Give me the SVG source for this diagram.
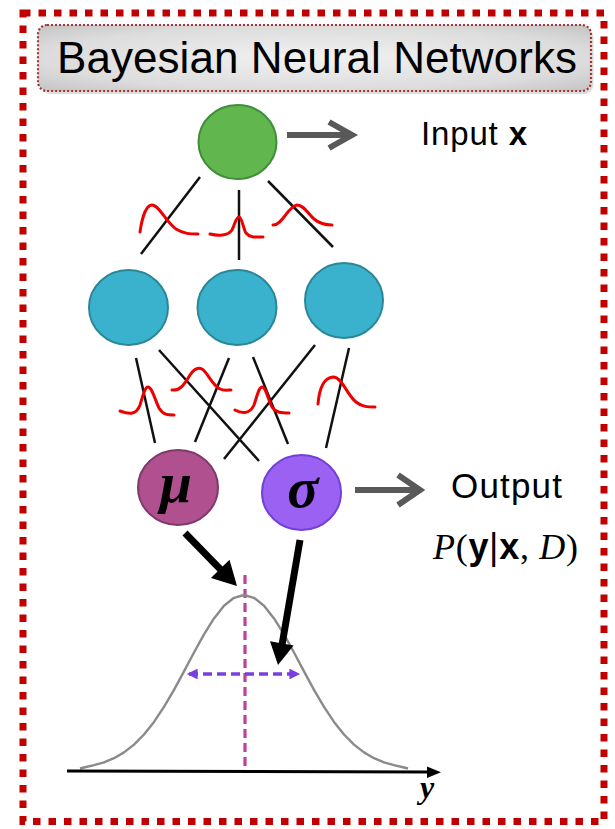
<svg xmlns="http://www.w3.org/2000/svg" width="615" height="829" viewBox="0 0 615 829">
<style>
.sans{font-family:"Liberation Sans","Noto Sans",Arial,sans-serif;fill:#000}
.serif{font-family:"Liberation Serif","DejaVu Serif","Times New Roman",serif;fill:#000}
.conn{stroke:#111;stroke-width:2.5;fill:none;stroke-linecap:butt}
.gauss{stroke:#ee0000;stroke-width:3;fill:none;stroke-linecap:round;stroke-linejoin:round}
.garrow{stroke:#595959;stroke-width:6;fill:none;stroke-linejoin:miter}
</style>
<defs>
<radialGradient id="titleFill" cx="50%" cy="50%" r="70%">
<stop offset="0" stop-color="#f2f2f2"/>
<stop offset="0.7" stop-color="#dcdcdc"/>
<stop offset="1" stop-color="#c4c4c4"/>
</radialGradient>
<marker id="purpleHead" viewBox="0 0 10 10" refX="8" refY="5" markerWidth="3.2" markerHeight="3" orient="auto-start-reverse" markerUnits="strokeWidth">
<path d="M0,0 L10,5 L0,10 z" fill="#7b3fe0"/>
</marker>
</defs>
<rect width="615" height="829" fill="#fff"/>
<!-- outer border -->
<rect x="23" y="13" width="581" height="808.5" fill="none" stroke="#c00000" stroke-width="7" stroke-dasharray="7.5 8"/>
<!-- title -->
<g id="title">
<rect x="40" y="27" width="552" height="65" rx="9" fill="#bdbdbd" opacity="0.5" transform="translate(1.5,2)"/>
<rect x="38" y="25" width="553" height="66" rx="9" fill="url(#titleFill)" stroke="#a83232" stroke-width="2.2" stroke-dasharray="2 2"/>
<text class="sans" x="57" y="73" font-size="44" textLength="520">Bayesian Neural Networks</text>
</g>
<!-- connectors -->
<g id="connectors">
<line class="conn" x1="200" y1="177" x2="141" y2="254"/>
<line class="conn" x1="239" y1="190" x2="239" y2="260"/>
<line class="conn" x1="268" y1="181" x2="333" y2="247"/>
<line class="conn" x1="136" y1="358" x2="155" y2="443"/>
<line class="conn" x1="159" y1="350" x2="259" y2="461"/>
<line class="conn" x1="229" y1="358" x2="195" y2="442"/>
<line class="conn" x1="253" y1="357" x2="288" y2="444"/>
<line class="conn" x1="315" y1="345" x2="224" y2="459"/>
<line class="conn" x1="349" y1="348" x2="326" y2="448"/>
</g>
<!-- weight distributions -->
<g id="weight-distributions">
<path class="gauss" d="M140,232 C142,218 146,205 152,205 C159,205 166,222 176,229 C184,234 190,234 198,234"/>
<path class="gauss" d="M210,234 C218,236 228,236 232,230 C235,224 236,217 239,217 C242,217 243,228 246,233 C250,238 256,237 263,237"/>
<path class="gauss" d="M273,225 C282,226 288,206 297,205 C304,205 308,214 314,219 C320,224 326,225 332,225"/>
<path class="gauss" d="M120,411 C128,414 136,416 140,405 C143,395 145,387 148,387 C152,387 155,400 159,408 C163,415 168,415 174,415"/>
<path class="gauss" d="M172,390 C180,391 184,385 190,375 C194,369 198,367 202,369 C208,373 212,385 220,389 C224,391 228,390 231,390"/>
<path class="gauss" d="M235,410 C242,414 250,414 254,405 C257,396 259,387 262,387 C266,387 268,400 272,407 C276,413 282,413 289,413"/>
<path class="gauss" d="M318,404 C319,392 322,378 333,377 C342,377 347,395 356,402 C362,407 368,407 375,407"/>
</g>
<!-- nodes -->
<g id="input-node">
<ellipse cx="237.5" cy="142" rx="39" ry="37" fill="#62b64e" stroke="#3f8e3a" stroke-width="2"/>
</g>
<g id="hidden-1">
<ellipse cx="128.5" cy="307.5" rx="39.5" ry="37.5" fill="#3ab2cd" stroke="#2b8798" stroke-width="2"/>
</g>
<g id="hidden-2">
<ellipse cx="237" cy="307.5" rx="39.5" ry="37.5" fill="#3ab2cd" stroke="#2b8798" stroke-width="2"/>
</g>
<g id="hidden-3">
<ellipse cx="344" cy="300.5" rx="39" ry="37.5" fill="#3ab2cd" stroke="#2b8798" stroke-width="2"/>
</g>
<g id="mu-node">
<ellipse cx="178" cy="487.5" rx="40" ry="37.5" fill="#b0508f" stroke="#7e3a6a" stroke-width="2"/>
<text class="serif" x="176" y="502" font-size="58" font-style="italic" font-weight="bold" text-anchor="middle">μ</text>
</g>
<g id="sigma-node">
<ellipse cx="301.5" cy="492.5" rx="39.5" ry="37.5" fill="#9b61f3" stroke="#7040d8" stroke-width="2"/>
<text class="serif" x="303" y="507" font-size="58" font-style="italic" font-weight="bold" text-anchor="middle">σ</text>
</g>
<!-- input / output arrows and labels -->
<g id="input-label">
<line class="garrow" x1="287" y1="135" x2="350" y2="135"/>
<polyline class="garrow" points="329,122 352,135 329,148"/>
<text class="sans" x="421" y="145" font-size="33" textLength="106">Input <tspan font-weight="bold">x</tspan></text>
</g>
<g id="output-label">
<line class="garrow" x1="355" y1="490" x2="418" y2="490"/>
<polyline class="garrow" points="398,475 420,490 398,505"/>
<text class="sans" x="451" y="498" font-size="35" textLength="111">Output</text>
<text x="433" y="559" font-size="36" textLength="145"><tspan class="serif" font-style="italic">P</tspan><tspan class="serif">(</tspan><tspan class="sans" font-weight="bold">y</tspan><tspan class="sans">|</tspan><tspan class="sans" font-weight="bold">x</tspan><tspan class="serif">, </tspan><tspan class="serif" font-style="italic">D</tspan><tspan class="serif">)</tspan></text>
</g>
<!-- output distribution -->
<g id="distribution">
<line x1="245" y1="575" x2="245" y2="767" stroke="#c0409a" stroke-width="3.2" stroke-dasharray="9 5"/>
<path d="M80,768.5 L84,767.5 L94,765.2 L104,762.3 L114,758.2 L124,752.4 L134,744.6 L144,734.5 L154,721.9 L164,706.9 L174,689.9 L184,671.4 L194,652.5 L204,634.4 L214,618.4 L224,605.8 L234,597.8 L244,595 L254,597.8 L264,605.8 L274,618.4 L284,634.4 L294,652.5 L304,671.4 L314,689.9 L324,706.9 L334,721.9 L344,734.5 L354,744.6 L364,752.4 L374,758.2 L384,762.3 L394,765.2 L404,767.5 L408,768.5" fill="none" stroke="#8a8a8a" stroke-width="2.4" stroke-linejoin="round"/>
<line x1="189" y1="674" x2="298" y2="674" stroke="#7b3fe0" stroke-width="3.6" stroke-dasharray="9 5" marker-start="url(#purpleHead)" marker-end="url(#purpleHead)"/>
<line x1="67" y1="771" x2="430" y2="772" stroke="#000" stroke-width="3.2"/>
<polygon points="441,772.3 427,766.5 427,778" fill="#000"/>
<text class="serif" x="420" y="798" font-size="32" font-style="italic" font-weight="bold">y</text>
</g>
<!-- mean / std arrows -->
<g id="param-arrows">
<line x1="185" y1="533" x2="222" y2="571" stroke="#000" stroke-width="7"/>
<polygon points="237,586 210.9,578 229.5,559.8" fill="#000"/>
<line x1="300" y1="540" x2="282" y2="645" stroke="#000" stroke-width="7"/>
<polygon points="278,665 270,641.2 293.6,645.4" fill="#000"/>
</g>
</svg>
